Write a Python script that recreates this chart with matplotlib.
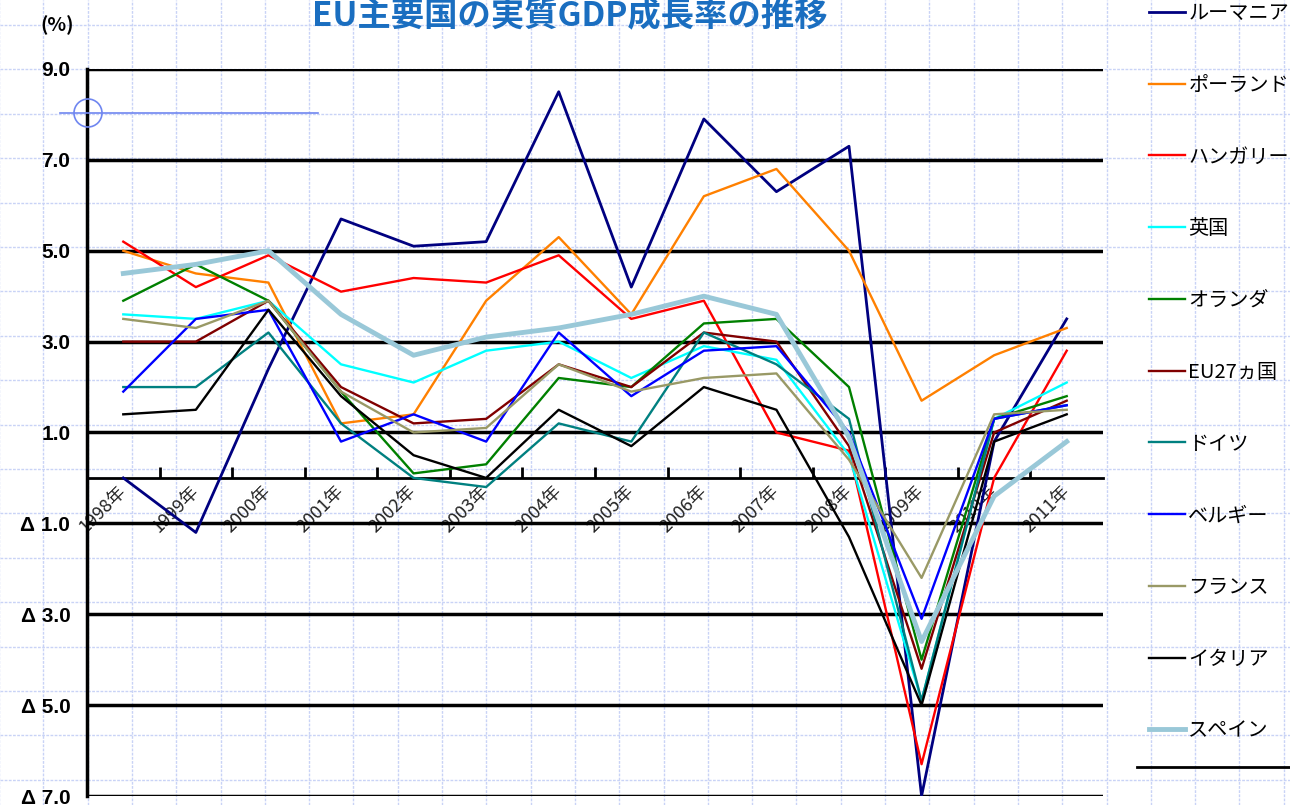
import numpy as np
import matplotlib
matplotlib.use('Agg')
import matplotlib.pyplot as plt
from matplotlib.lines import Line2D
from matplotlib.patches import Circle

plt.rcParams['font.family'] = ['Noto Sans CJK JP', 'DejaVu Sans']

years = ['1998年', '1999年', '2000年', '2001年', '2002年', '2003年', '2004年',
         '2005年', '2006年', '2007年', '2008年', '2009年', '2010年', '2011年']

# 実質GDP成長率 (%)
romania = [0.0, -1.2, 2.4, 5.7, 5.1, 5.2, 8.5, 4.2, 7.9, 6.3, 7.3, -7.0, 0.8, 3.5]
poland = [5.0, 4.5, 4.3, 1.2, 1.4, 3.9, 5.3, 3.6, 6.2, 6.8, 5.0, 1.7, 2.7, 3.3]
hungary = [5.2, 4.2, 4.9, 4.1, 4.4, 4.3, 4.9, 3.5, 3.9, 1.0, 0.6, -6.3, 0.0, 2.8]
uk = [3.6, 3.5, 3.9, 2.5, 2.1, 2.8, 3.0, 2.2, 2.9, 2.6, 0.5, -4.9, 1.3, 2.1]
netherlands = [3.9, 4.7, 3.9, 1.9, 0.1, 0.3, 2.2, 2.0, 3.4, 3.5, 2.0, -4.0, 1.3, 1.8]
eu27 = [3.0, 3.0, 3.9, 2.0, 1.2, 1.3, 2.5, 2.0, 3.2, 3.0, 0.7, -4.2, 1.0, 1.7]
germany = [2.0, 2.0, 3.2, 1.2, 0.0, -0.2, 1.2, 0.8, 3.2, 2.5, 1.3, -4.9, 1.3, 1.6]
belgium = [1.9, 3.5, 3.7, 0.8, 1.4, 0.8, 3.2, 1.8, 2.8, 2.9, 1.0, -3.1, 1.3, 1.6]
france = [3.5, 3.3, 3.9, 1.9, 1.0, 1.1, 2.5, 1.9, 2.2, 2.3, 0.4, -2.2, 1.4, 1.5]
italy = [1.4, 1.5, 3.7, 1.8, 0.5, 0.0, 1.5, 0.7, 2.0, 1.5, -1.3, -5.0, 0.8, 1.4]
spain = [4.5, 4.7, 5.0, 3.6, 2.7, 3.1, 3.3, 3.6, 4.0, 3.6, 0.9, -3.6, -0.4, 0.8]

series = [
    ('ルーマニア', romania, '#000080', 2.0),
    ('ポーランド', poland, '#ff8000', 1.7),
    ('ハンガリー', hungary, '#ff0000', 1.7),
    ('英国', uk, '#00ffff', 1.7),
    ('オランダ', netherlands, '#008000', 1.7),
    ('EU27ヵ国', eu27, '#800000', 1.7),
    ('ドイツ', germany, '#008080', 1.7),
    ('ベルギー', belgium, '#0000ff', 1.7),
    ('フランス', france, '#999966', 1.7),
    ('イタリア', italy, '#000000', 1.7),
    ('スペイン', spain, '#99c8d8', 3.5),
]

W, H = 1290, 805
fig = plt.figure(figsize=(W / 100, H / 100), dpi=100)

# 方眼紙の背景
bg = fig.add_axes([0, 0, 1, 1], zorder=0)
bg.set_xlim(0, W)
bg.set_ylim(H, 0)
bg.axis('off')
for gx in np.arange(-1, W, 44.3):
    bg.axvline(gx, color='#c9d3f6', lw=1, ls=(0, (2, 1)))
for gy in np.arange(25, H, 44.4):
    bg.axhline(gy, color='#c9d3f6', lw=1, ls=(0, (2, 1)))

ax = fig.add_axes([87 / W, 9 / H, (1103 - 87) / W, (796 - 69) / H], zorder=1)
ax.patch.set_alpha(0)
x = np.arange(len(years))

handles = []
for name, vals, col, lw in series:
    ln, = ax.plot(x, vals, color=col, lw=lw, label=name, zorder=3)
    handles.append(ln)

ax.set_xlim(-0.5, len(years) - 0.5)
ax.set_ylim(-7, 9)

ax.spines['top'].set_visible(False)
ax.spines['right'].set_visible(False)
ax.spines['left'].set_linewidth(2.5)
ax.spines['bottom'].set_position(('data', 0))
ax.spines['bottom'].set_linewidth(2)

yt = list(range(-7, 10, 2))
ax.set_yticks(yt)
ax.set_yticklabels([f'{v:.1f}' if v > 0 else f'Δ {-v:.1f}' for v in yt],
                   fontsize=15, fontweight='bold', family='Liberation Sans')
ax.tick_params(axis='y', length=0, pad=12)
ax.yaxis.grid(True, color='black', lw=2.5)
ax.set_axisbelow(True)

ax.set_xticks(x)
ax.set_xticklabels(years, rotation=45, ha='right', va='center',
                   rotation_mode='anchor', fontsize=13, color='#222222')
ax.set_xticks(np.arange(0.5, len(years) - 1, 1), minor=True)
ax.tick_params(axis='x', which='major', length=0, pad=8)
ax.tick_params(axis='x', which='minor', direction='in', length=8, width=2)

fig.text(570 / W, 1 - 17 / H, 'EU主要国の実質GDP成長率の推移', ha='center', va='center',
         fontsize=24, fontweight='bold', color='#1a6ec0')
fig.text(57 / W, 1 - 25 / H, '(%)', ha='center', va='center',
         fontsize=14, fontweight='bold')

fig.legend(handles, [s[0] for s in series], loc='upper left',
           bbox_to_anchor=(1146 / W, 1.0), frameon=False, fontsize=14.5,
           handlelength=1.8, handletextpad=0.15, labelspacing=2.52,
           borderaxespad=0, borderpad=0.15)
fig.add_artist(Line2D([1137 / W, 1.0], [1 - 767 / H] * 2, color='black', lw=2))

# 左上の選択マーク
top = fig.add_axes([0, 0, 1, 1], zorder=5)
top.set_xlim(0, W)
top.set_ylim(H, 0)
top.axis('off')
top.plot([60, 318], [113, 113], color='#6f86f0', lw=1.2)
top.add_patch(Circle((88, 113), 14, fill=False, ec='#6f86f0', lw=1.2))

fig.savefig('out.png', dpi=100)
